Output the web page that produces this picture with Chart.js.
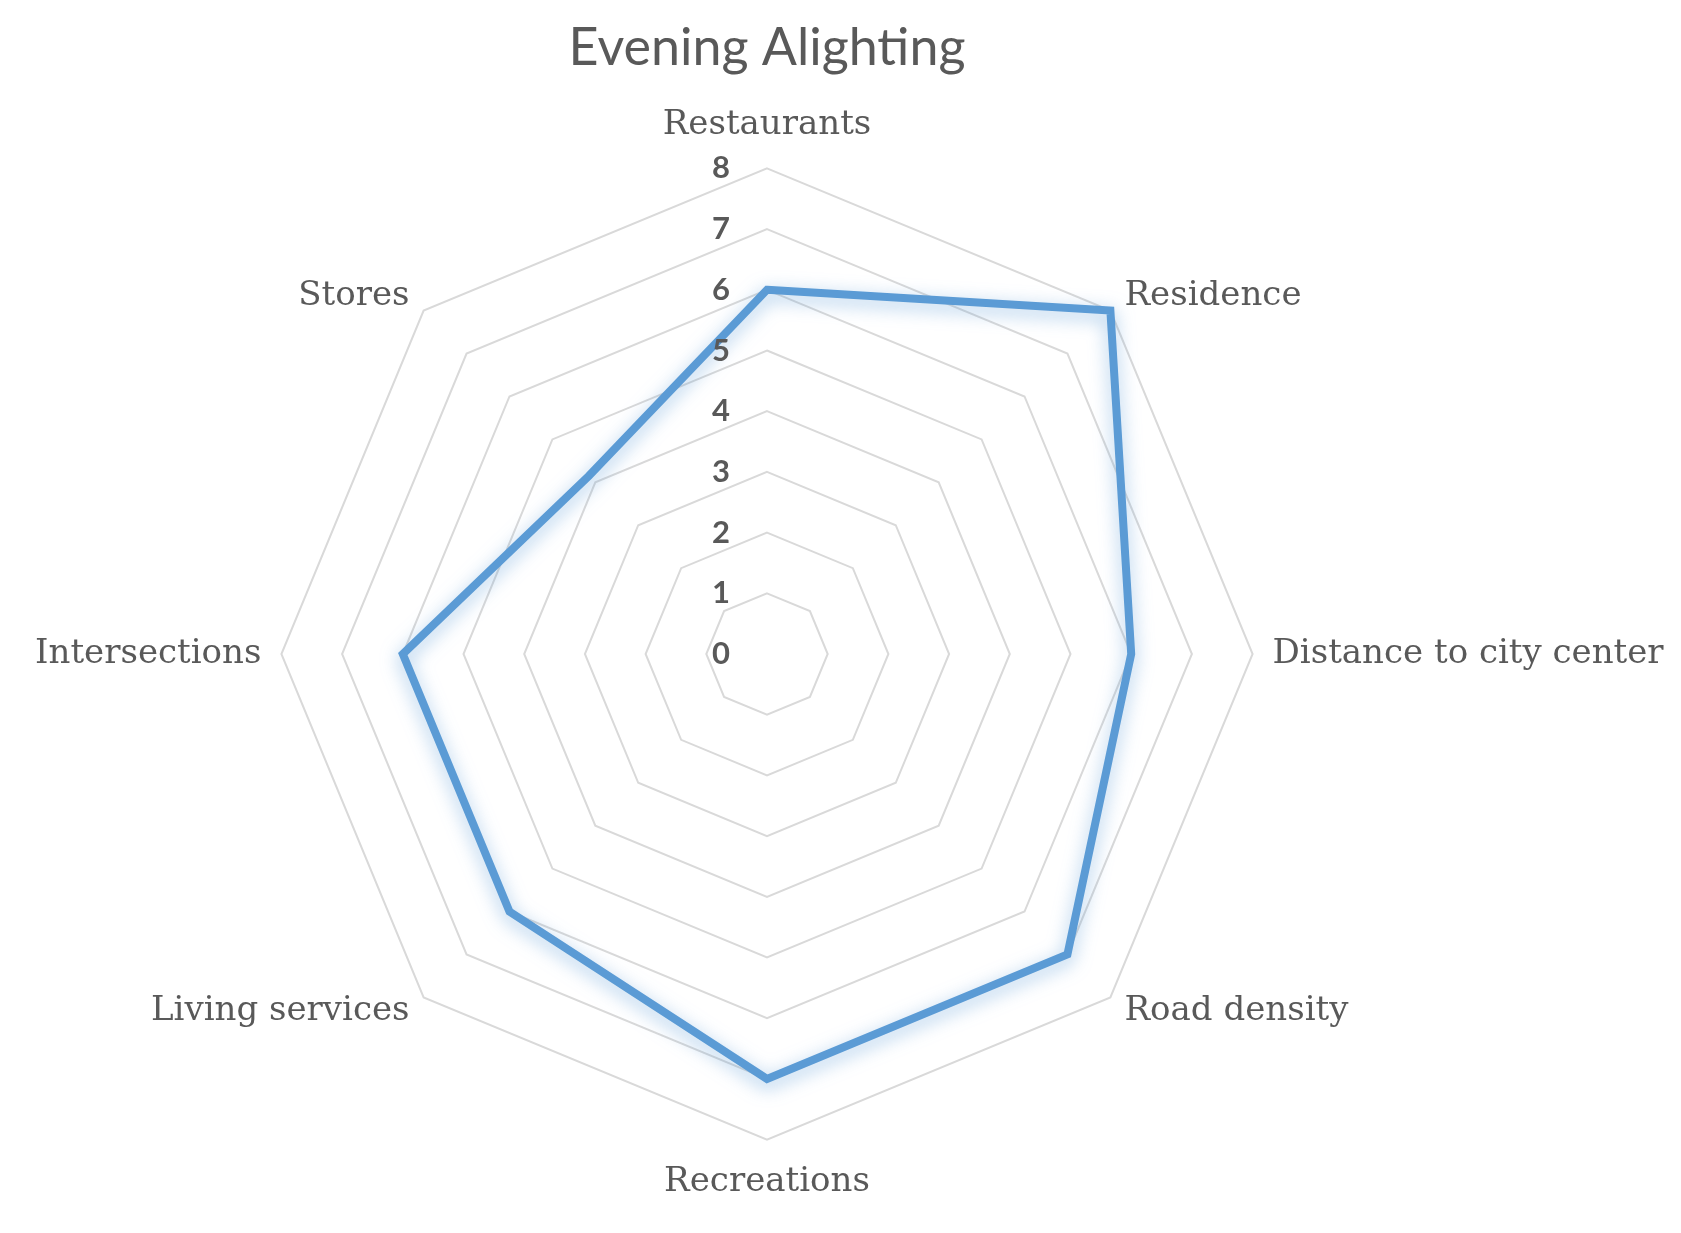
<!DOCTYPE html>
<html>
<head>
<meta charset="utf-8">
<title>Evening Alighting</title>
<script src="https://cdn.jsdelivr.net/npm/chart.js@4.4.1/dist/chart.umd.min.js"></script>
<style>
  html, body { margin: 0; padding: 0; background: #ffffff; overflow: hidden; }
  /* wider than the window so the radar's fit is set by height; shifted so the centre sits where the original has it */
  #wrap { width: 2000px; height: 1233px; margin-left: -233px; }
</style>
</head>
<body>
<div id="wrap"><canvas id="radarChart"></canvas></div>
<script>
"use strict";

// data
const categories = [
  "Restaurants",
  "Residence",
  "Distance to city center",
  "Road density",
  "Recreations",
  "Living services",
  "Intersections",
  "Stores",
];
const alightingValues = [6, 8, 6, 7, 7, 6, 6, 4.15];
const tickValues = [0, 1, 2, 3, 4, 5, 6, 7, 8];

const textGrey = "#595959";

// soft glow under the series line
const lineGlow = {
  id: "lineGlow",
  beforeDatasetDraw(chart) {
    const ctx = chart.ctx;
    ctx.save();
    ctx.shadowColor = "rgba(91, 155, 213, 0.6)";
    ctx.shadowBlur = 18;
    ctx.shadowOffsetX = 0;
    ctx.shadowOffsetY = 5;
  },
  afterDatasetDraw(chart) {
    chart.ctx.restore();
  },
};

// tick numbers sit to the left of the vertical axis, like the original
const sideTicks = {
  id: "sideTicks",
  afterDraw(chart) {
    const scale = chart.scales.r;
    const ctx = chart.ctx;
    ctx.save();
    ctx.font = "bold 31px Lato";
    ctx.fillStyle = textGrey;
    ctx.textAlign = "center";
    ctx.textBaseline = "middle";
    tickValues.forEach((v) => {
      const d = scale.getDistanceFromCenterForValue(v);
      ctx.fillText(String(v), scale.xCenter - 46, scale.yCenter - d);
    });
    ctx.restore();
  },
};

const ctx = document.getElementById("radarChart").getContext("2d");
const chart = new Chart(ctx, {
  type: "radar",
  data: {
    labels: categories,
    datasets: [
      {
        label: "Evening Alighting",
        data: alightingValues,
        borderColor: "#5B9BD5",
        borderWidth: 8,
        borderJoinStyle: "miter",
        backgroundColor: "transparent",
        fill: false,
        pointRadius: 0,
        pointHoverRadius: 0,
        tension: 0,
      },
    ],
  },
  options: {
    responsive: true,
    maintainAspectRatio: false,
    animation: false,
    layout: {
      padding: { top: 0, bottom: 50, left: 0, right: 0 },
    },
    plugins: {
      legend: { display: false },
      tooltip: { enabled: false },
      title: {
        display: true,
        text: "Evening Alighting",
        color: textGrey,
        font: { family: "Lato", size: 52, weight: "normal" },
        padding: { top: 17, bottom: 46 },
      },
    },
    scales: {
      r: {
        min: 0,
        max: 8,
        beginAtZero: true,
        ticks: { stepSize: 1, display: false },
        grid: { circular: false, color: "#D9D9D9", lineWidth: 2 },
        angleLines: { display: false },
        pointLabels: {
          color: textGrey,
          // labels are centred on their anchor point; top and bottom ones sit further out
          padding: (c) => (c.index === 0 || c.index === 4 ? 43 : 20),
          font: { family: "DejaVu Serif", size: 34, lineHeight: 0 },
        },
      },
    },
  },
  plugins: [lineGlow, sideTicks],
});
</script>
</body>
</html>
